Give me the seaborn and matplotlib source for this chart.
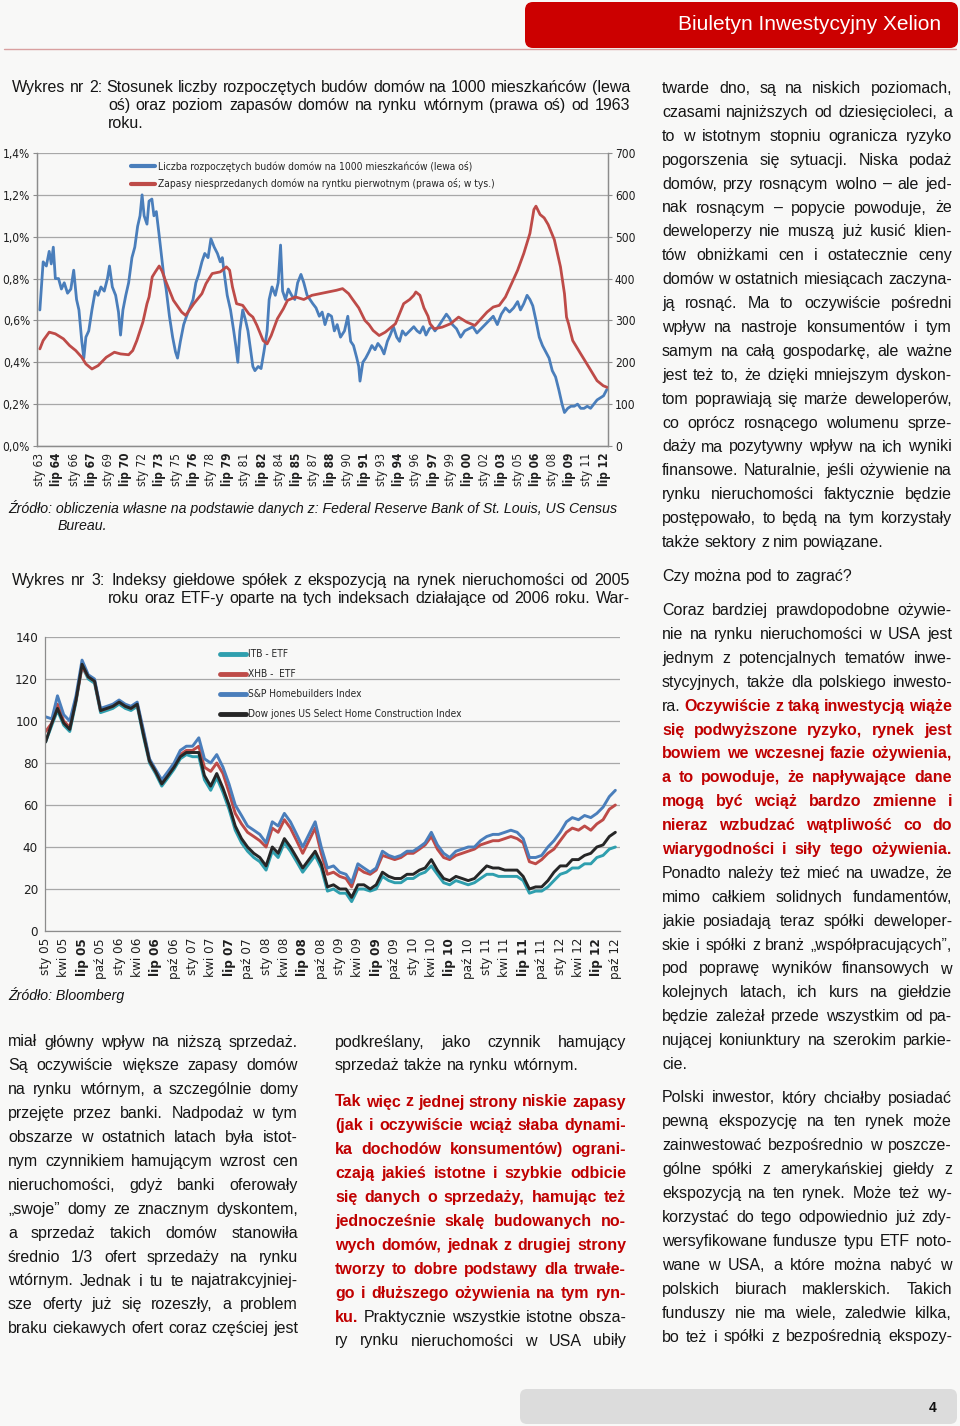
import glob
import os
import numpy as np
import pandas as pd
import seaborn as sb
import matplotlib
matplotlib.use("Agg")
from matplotlib import pyplot as plt
from matplotlib import font_manager
from matplotlib.font_manager import FontProperties
from matplotlib.patches import FancyBboxPatch
from matplotlib.lines import Line2D
import matplotlib.dates as mdates

# ---- chart 2 of the bulletin: housing starts per 1000 inhabitants vs. unsold new homes
starts_year = [
    1963.00, 1963.29, 1963.57, 1963.82, 1964.00, 1964.18, 1964.36, 1964.64, 1964.89, 1965.14,
    1965.43, 1965.72, 1965.97, 1966.22, 1966.43, 1966.68, 1966.86, 1967.04, 1967.29, 1967.57,
    1967.86, 1968.11, 1968.36, 1968.65, 1968.93, 1969.11, 1969.36, 1969.65, 1969.90, 1970.08,
    1970.29, 1970.54, 1970.79, 1971.08, 1971.33, 1971.58, 1971.79, 1971.97, 1972.15, 1972.40,
    1972.58, 1972.83, 1973.01, 1973.22, 1973.44, 1973.65, 1973.86, 1974.08, 1974.37, 1974.65,
    1974.90, 1975.08, 1975.33, 1975.62, 1975.87, 1976.15, 1976.44, 1976.69, 1976.94, 1977.22,
    1977.47, 1977.76, 1978.01, 1978.30, 1978.58, 1978.83, 1979.01, 1979.19, 1979.44, 1979.73,
    1980.01, 1980.19, 1980.37, 1980.55, 1980.80, 1981.05, 1981.26, 1981.51, 1981.69, 1981.87,
    1982.16, 1982.41, 1982.66, 1982.94, 1983.12, 1983.37, 1983.66, 1983.91, 1984.12, 1984.30,
    1984.55, 1984.80, 1985.09, 1985.37, 1985.62, 1985.91, 1986.16, 1986.45, 1986.70, 1986.95,
    1987.23, 1987.52, 1987.77, 1988.02, 1988.30, 1988.59, 1988.84, 1989.09, 1989.38, 1989.73,
    1990.02, 1990.27, 1990.52, 1990.81, 1990.98, 1991.09, 1991.34, 1991.59, 1991.88, 1992.13,
    1992.41, 1992.66, 1992.95, 1993.20, 1993.49, 1993.74, 1994.02, 1994.31, 1994.56, 1994.81,
    1995.09, 1995.45, 1995.81, 1996.10, 1996.35, 1996.63, 1996.88, 1997.17, 1997.42, 1997.67,
    1997.95, 1998.31, 1998.67, 1998.95, 1999.20, 1999.56, 1999.92, 2000.28, 2000.63, 2000.99,
    2001.35, 2001.71, 2002.06, 2002.42, 2002.78, 2003.14, 2003.49, 2003.85, 2004.21, 2004.57,
    2004.92, 2005.17, 2005.46, 2005.75, 2006.00, 2006.25, 2006.53, 2006.82, 2007.10, 2007.39,
    2007.68, 2007.96, 2008.25, 2008.53, 2008.82, 2009.03, 2009.32, 2009.60, 2009.89, 2010.18,
    2010.46, 2010.75, 2011.03, 2011.32, 2011.60, 2011.89, 2012.18, 2012.46, 2012.75,
]
starts_pct = [
    0.65, 0.88, 0.86, 0.93, 0.87, 0.95, 0.80, 0.80, 0.75, 0.78,
    0.73, 0.75, 0.84, 0.70, 0.65, 0.50, 0.42, 0.52, 0.55, 0.65,
    0.74, 0.72, 0.76, 0.74, 0.80, 0.86, 0.76, 0.72, 0.64, 0.53,
    0.65, 0.72, 0.78, 0.90, 0.95, 1.05, 1.10, 1.20, 1.10, 1.06,
    1.17, 1.18, 1.10, 1.12, 1.02, 0.92, 0.82, 0.75, 0.62, 0.52,
    0.45, 0.42, 0.50, 0.58, 0.62, 0.66, 0.70, 0.78, 0.82, 0.88,
    0.92, 0.90, 0.99, 0.95, 0.92, 0.88, 0.90, 0.82, 0.72, 0.65,
    0.55, 0.48, 0.40, 0.55, 0.65, 0.60, 0.55, 0.45, 0.38, 0.36,
    0.38, 0.37, 0.45, 0.55, 0.70, 0.76, 0.72, 0.78, 0.96, 0.74,
    0.70, 0.75, 0.72, 0.70, 0.78, 0.82, 0.78, 0.72, 0.70, 0.68,
    0.66, 0.62, 0.64, 0.58, 0.63, 0.62, 0.55, 0.58, 0.52, 0.55,
    0.62, 0.50, 0.48, 0.42, 0.38, 0.31, 0.40, 0.42, 0.45, 0.48,
    0.46, 0.49, 0.47, 0.44, 0.50, 0.53, 0.57, 0.52, 0.50, 0.55,
    0.53, 0.55, 0.57, 0.55, 0.54, 0.57, 0.53, 0.56, 0.57, 0.55,
    0.57, 0.60, 0.63, 0.61, 0.58, 0.56, 0.52, 0.55, 0.56, 0.57,
    0.54, 0.56, 0.58, 0.60, 0.62, 0.58, 0.63, 0.66, 0.64, 0.66,
    0.69, 0.65, 0.68, 0.72, 0.70, 0.67, 0.60, 0.52, 0.48, 0.45,
    0.42, 0.36, 0.33, 0.27, 0.20, 0.16, 0.18, 0.19, 0.19, 0.20,
    0.18, 0.18, 0.19, 0.18, 0.20, 0.22, 0.23, 0.24, 0.27,
]
stock_year = [
    1963.00, 1963.29, 1963.82, 1964.36, 1965.07, 1965.61, 1966.15, 1966.68, 1967.04, 1967.57,
    1968.11, 1968.83, 1969.54, 1970.08, 1970.79, 1971.15, 1971.51, 1972.04, 1972.40, 1972.58,
    1972.86, 1973.11, 1973.47, 1973.72, 1974.01, 1974.72, 1975.44, 1975.79, 1976.51, 1977.22,
    1977.58, 1978.12, 1978.83, 1979.37, 1979.65, 1979.90, 1980.26, 1980.80, 1981.33, 1981.69,
    1982.05, 1982.59, 1982.94, 1983.30, 1983.84, 1984.37, 1984.73, 1985.44, 1986.16, 1986.87,
    1987.59, 1988.30, 1989.02, 1989.56, 1990.09, 1990.45, 1990.98, 1991.52, 1991.88, 1992.24,
    1992.77, 1993.31, 1993.84, 1994.20, 1994.56, 1994.92, 1995.45, 1995.81, 1995.99, 1996.35,
    1996.70, 1997.06, 1997.24, 1997.60, 1998.31, 1999.03, 1999.74, 2000.46, 2001.17, 2001.71,
    2002.24, 2002.78, 2003.31, 2003.85, 2004.39, 2004.92, 2005.46, 2006.00, 2006.35, 2006.53,
    2006.89, 2007.25, 2007.60, 2008.14, 2008.68, 2009.03, 2009.21, 2009.39, 2009.75, 2010.46,
    2011.18, 2011.89, 2012.43, 2012.79,
]
stock_k = [
    232, 252, 272, 268, 256, 240, 228, 212, 196, 184,
    192, 212, 224, 220, 218, 228, 252, 296, 340, 356,
    404, 415, 430, 418, 396, 348, 320, 312, 340, 364,
    388, 412, 416, 428, 420, 380, 340, 336, 316, 308,
    288, 252, 244, 264, 304, 328, 348, 356, 350, 360,
    364, 368, 372, 376, 364, 350, 330, 300, 290, 276,
    264, 272, 284, 292, 316, 340, 350, 360, 368, 360,
    330, 310, 292, 280, 284, 292, 308, 296, 288, 304,
    320, 332, 336, 356, 388, 420, 460, 508, 565, 573,
    553, 545, 529, 493, 428, 364, 308, 292, 252, 220,
    188, 156, 144, 140,
]
ticks1 = ["sty 63", "lip 64", "sty 66", "lip 67", "sty 69", "lip 70", "sty 72", "lip 73",
          "sty 75", "lip 76", "sty 78", "lip 79", "sty 81", "lip 82", "sty 84", "lip 85",
          "sty 87", "lip 88", "sty 90", "lip 91", "sty 93", "lip 94", "sty 96", "lip 97",
          "sty 99", "lip 00", "sty 02", "lip 03", "sty 05", "lip 06", "sty 08", "lip 09",
          "sty 11", "lip 12"]
label_starts = "Liczba rozpoczętych budów domów na 1000 mieszkańców (lewa oś)"
label_stock = "Zapasy niesprzedanych domów na ryntku pierwotnym (prawa oś; w tys.)"

# ---- chart 3: homebuilder indices and ETFs, monthly from Jan 2005
first_month = "2005-01-01"
itb = [90, 98, 105, 98, 95, 109, 126, 120, 118, 104,
       105, 106, 108, 106, 105, 107, 93, 80, 75, 69,
       73, 77, 82, 84, 83, 83, 72, 67, 73, 66,
       58, 48, 42, 38, 35, 33, 29, 38, 35, 42,
       38, 33, 28, 32, 36, 30, 19, 20, 18, 18,
       14, 20, 20, 19, 20, 26, 24, 23, 23, 25,
       25, 27, 28, 31, 27, 23, 22, 24, 23, 22,
       23, 25, 27, 27, 26, 26, 26, 26, 24, 18,
       19, 19, 21, 24, 27, 28, 30, 30, 32, 32,
       35, 36, 39, 40]
xhb = [95, 99, 108, 100, 97, 110, 126, 121, 119, 105,
       106, 107, 109, 107, 106, 108, 95, 81, 76, 71,
       75, 79, 84, 86, 86, 88, 78, 76, 80, 75,
       66, 56, 51, 47, 45, 43, 40, 49, 47, 53,
       49, 43, 37, 43, 49, 37, 27, 28, 26, 25,
       21, 30, 28, 27, 29, 36, 35, 34, 35, 37,
       37, 39, 41, 45, 39, 35, 34, 36, 37, 38,
       39, 41, 42, 43, 43, 44, 45, 44, 42, 33,
       32, 34, 37, 39, 43, 47, 49, 48, 50, 48,
       51, 53, 58, 60]
sp_home = [102, 101, 112, 103, 100, 112, 129, 122, 120, 106,
           107, 108, 110, 108, 107, 109, 96, 82, 77, 72,
           76, 80, 86, 88, 88, 92, 82, 80, 84, 78,
           70, 60, 55, 50, 48, 46, 42, 52, 50, 56,
           52, 46, 40, 46, 52, 40, 30, 31, 28, 27,
           23, 32, 30, 28, 30, 38, 36, 35, 36, 38,
           38, 40, 42, 47, 41, 37, 35, 38, 39, 40,
           40, 43, 45, 46, 46, 47, 48, 47, 44, 35,
           35, 36, 40, 43, 47, 52, 54, 53, 55, 54,
           56, 59, 64, 67]
dj_home = [90, 99, 106, 99, 96, 110, 127, 121, 119, 105,
           106, 107, 109, 107, 106, 108, 94, 81, 76, 70,
           74, 78, 83, 85, 85, 85, 74, 69, 75, 68,
           60, 50, 44, 40, 37, 35, 31, 40, 37, 44,
           40, 35, 30, 34, 38, 32, 21, 22, 20, 20,
           16, 22, 22, 20, 22, 28, 26, 25, 25, 27,
           27, 29, 30, 34, 29, 25, 24, 26, 25, 24,
           25, 28, 31, 30, 30, 29, 29, 29, 26, 20,
           21, 21, 24, 28, 31, 31, 34, 34, 36, 37,
           40, 41, 45, 47]
index_names = ["ITB - ETF", "XHB -  ETF", "S&P Homebuilders Index",
               "Dow jones US Select Home Construction Index"]
ticks2 = ["sty 05", "kwi 05", "lip 05", "paź 05", "sty 06", "kwi 06", "lip 06", "paź 06",
          "sty 07", "kwi 07", "lip 07", "paź 07", "sty 08", "kwi 08", "lip 08", "paź 08",
          "sty 09", "kwi 09", "lip 09", "paź 09", "sty 10", "kwi 10", "lip 10", "paź 10",
          "sty 11", "kwi 11", "lip 11", "paź 11", "sty 12", "kwi 12", "lip 12", "paź 12"]

MONTHS = {"sty": 1, "lut": 2, "mar": 3, "kwi": 4, "maj": 5, "cze": 6,
          "lip": 7, "sie": 8, "wrz": 9, "paź": 10, "lis": 11, "gru": 12}

# ---- page texts
caption2 = ["Wykres nr 2: Stosunek liczby rozpoczętych budów domów na 1000 mieszkańców (lewa",
            "oś) oraz poziom zapasów domów na rynku wtórnym (prawa oś) od 1963",
            "roku."]
caption3 = ["Wykres nr 3: Indeksy giełdowe spółek z ekspozycją na rynek nieruchomości od 2005",
            "roku oraz ETF-y oparte na tych indeksach działające od 2006 roku. War-"]
col1 = ["miał główny wpływ na niższą sprzedaż.",
        "Są oczywiście większe zapasy domów",
        "na rynku wtórnym, a szczególnie domy",
        "przejęte przez banki. Nadpodaż w tym",
        "obszarze w ostatnich latach była istot-",
        "nym czynnikiem hamującym wzrost cen",
        "nieruchomości, gdyż banki oferowały",
        "„swoje” domy ze znacznym dyskontem,",
        "a sprzedaż takich domów stanowiła",
        "średnio 1/3 ofert sprzedaży na rynku",
        "wtórnym. Jednak i tu te najatrakcyjniej-",
        "sze oferty już się rozeszły, a problem",
        "braku ciekawych ofert coraz częściej jest"]
col2a = ["podkreślany, jako czynnik hamujący",
         "sprzedaż także na rynku wtórnym."]
col2b = ["*Tak więc z jednej strony niskie zapasy*",
         "*(jak i oczywiście wciąż słaba dynami-*",
         "*ka dochodów konsumentów) ograni-*",
         "*czają jakieś istotne i szybkie odbicie*",
         "*się danych o sprzedaży, hamując też*",
         "*jednocześnie skalę budowanych no-*",
         "*wych domów, jednak z drugiej strony*",
         "*tworzy to dobre podstawy dla trwałe-*",
         "*go i dłuższego ożywienia na tym ryn-*",
         "*ku.* Praktycznie wszystkie istotne obsza-",
         "ry rynku nieruchomości w USA ubiły"]
col3a = ["twarde dno, są na niskich poziomach,",
         "czasami najniższych od dziesięcioleci, a",
         "to w istotnym stopniu ogranicza ryzyko",
         "pogorszenia się sytuacji. Niska podaż",
         "domów, przy rosnącym wolno – ale jed-",
         "nak rosnącym – popycie powoduje, że",
         "deweloperzy nie muszą już kusić klien-",
         "tów obniżkami cen i ostatecznie ceny",
         "domów w ostatnich miesiącach zaczyna-",
         "ją rosnąć. Ma to oczywiście pośredni",
         "wpływ na nastroje konsumentów i tym",
         "samym na całą gospodarkę, ale ważne",
         "jest też to, że dzięki mniejszym dyskon-",
         "tom poprawiają się marże deweloperów,",
         "co oprócz rosnącego wolumenu sprze-",
         "daży ma pozytywny wpływ na ich wyniki",
         "finansowe. Naturalnie, jeśli ożywienie na",
         "rynku nieruchomości faktycznie będzie",
         "postępowało, to będą na tym korzystały",
         "także sektory z nim powiązane."]
col3b = ["Coraz bardziej prawdopodobne ożywie-",
         "nie na rynku nieruchomości w USA jest",
         "jednym z potencjalnych tematów inwe-",
         "stycyjnych, także dla polskiego inwesto-",
         "ra. *Oczywiście z taką inwestycją wiąże*",
         "*się podwyższone ryzyko, rynek jest*",
         "*bowiem we wczesnej fazie ożywienia,*",
         "*a to powoduje, że napływające dane*",
         "*mogą być wciąż bardzo zmienne i*",
         "*nieraz wzbudzać wątpliwość co do*",
         "*wiarygodności i siły tego ożywienia.*",
         "Ponadto należy też mieć na uwadze, że",
         "mimo całkiem solidnych fundamentów,",
         "jakie posiadają teraz spółki deweloper-",
         "skie i spółki z branż „współpracujących”,",
         "pod poprawę wyników finansowych w",
         "kolejnych latach, ich kurs na giełdzie",
         "będzie zależał przede wszystkim od pa-",
         "nującej koniunktury na szerokim parkie-",
         "cie."]
col3c = ["Polski inwestor, który chciałby posiadać",
         "pewną ekspozycję na ten rynek może",
         "zainwestować bezpośrednio w poszcze-",
         "gólne spółki z amerykańskiej giełdy z",
         "ekspozycją na ten rynek. Może też wy-",
         "korzystać do tego odpowiednio już zdy-",
         "wersyfikowane fundusze typu ETF noto-",
         "wane w USA, a które można nabyć w",
         "polskich biurach maklerskich. Takich",
         "funduszy nie ma wiele, zaledwie kilka,",
         "bo też i spółki z bezpośrednią ekspozy-"]

BLUE, RED, TEAL, DARK = "#4a7ebb", "#be4b48", "#2f9fae", "#262626"
GRID, AXIS, PAGE, EMPH_RED = "#a8a8a8", "#8c8c8c", "#f8f8f7", "#c00000"
W, H = 960, 1426

sb.set_style("white")
BODY = "Liberation Sans"
plt.rcParams["font.family"] = [BODY, "DejaVu Sans"]


def find_font(patterns):
    known = [f.fname for f in font_manager.fontManager.ttflist]
    for pat in patterns:
        for path in known:
            if os.path.basename(path) == pat:
                return path
        for root in ["/usr/share/fonts", "/usr/local/share/fonts"]:
            hits = glob.glob(os.path.join(root, "**", pat), recursive=True)
            if hits:
                return hits[0]
    return None


narrow_reg = find_font(["LiberationSansNarrow-Regular.ttf", "DejaVuSansCondensed.ttf"])
narrow_bold = find_font(["LiberationSansNarrow-Bold.ttf", "DejaVuSansCondensed-Bold.ttf"])


def chart_font(size, bold=False):
    path = narrow_bold if bold else narrow_reg
    if path:
        return FontProperties(fname=path, size=size)
    # no condensed face around: shrink the regular one instead
    return FontProperties(family=BODY, size=size * 0.84, weight="bold" if bold else "normal")


def rect(left, top, right, bottom):
    return [left / W, 1 - bottom / H, (right - left) / W, (bottom - top) / H]


fig = plt.figure(figsize=(W / 100, H / 100), dpi=100, facecolor=PAGE)
renderer = fig.canvas.get_renderer()

NORMAL = dict(family=BODY, size=11.5, color="#151515")
EMPH = dict(family=BODY, size=11.5, color=EMPH_RED, weight="bold")
CAPTION = dict(family=BODY, size=11.5, color="#151515")


def measure(word, style):
    t = fig.text(0, 0, word, **style)
    w = t.get_window_extent(renderer).width
    t.remove()
    return w


def text_line(x0, y, width, line, justify=True, base=NORMAL, emph=EMPH):
    items = []
    for i, part in enumerate(line.split("*")):
        for w in part.split():
            items.append((w, emph if i % 2 else base))
    widths = [measure(w, s) for w, s in items]
    gap = 0.278 * base["size"] * 100 / 72
    if justify and len(items) > 1:
        gap = max((width - sum(widths)) / (len(items) - 1), 1.5)
    x = x0
    for (w, s), ww in zip(items, widths):
        fig.text(x / W, 1 - y / H, w, va="baseline", ha="left", **s)
        x += ww + gap


def paragraph(x0, y0, width, lines, last_justified=False, step=23.9, **kw):
    for i, line in enumerate(lines):
        just = last_justified or i < len(lines) - 1
        text_line(x0, y0 + i * step, width, line, just, **kw)


def style_axes(ax):
    ax.spines["top"].set_visible(False)
    for side in ["left", "bottom", "right"]:
        ax.spines[side].set_color(AXIS)
        ax.spines[side].set_linewidth(0.9)
    ax.set_facecolor("none")
    ax.yaxis.grid(True, color=GRID, lw=0.9)
    ax.xaxis.grid(False)
    ax.set_axisbelow(True)
    ax.tick_params(axis="both", length=3, width=0.8, color=AXIS,
                   labelcolor="#1e1e1e", pad=2)
    ax.set_xlabel("")
    ax.set_ylabel("")


def tick_fonts(ax, size):
    for lab in ax.get_xticklabels():
        lab.set_fontproperties(chart_font(size, lab.get_text().startswith("lip")))
    for lab in ax.get_yticklabels():
        lab.set_fontproperties(chart_font(size))


# ---- header / footer
fig.patches.append(FancyBboxPatch((525 / W, 1 - 48 / H), 433 / W, 46 / H,
                                  boxstyle="round,pad=0,rounding_size=%f" % (8 / W),
                                  mutation_aspect=W / H, transform=fig.transFigure,
                                  facecolor="#cc0000", edgecolor="none"))
fig.text(941 / W, 1 - 25 / H, "Biuletyn Inwestycyjny Xelion", color="white",
         fontsize=15, ha="right", va="center", family=BODY)
fig.add_artist(Line2D([4 / W, 956 / W], [1 - 48.5 / H] * 2, transform=fig.transFigure,
                      color="#d9a0a0", lw=1.0))
fig.patches.append(FancyBboxPatch((520 / W, 1 - 1424 / H), 437 / W, 35 / H,
                                  boxstyle="round,pad=0,rounding_size=%f" % (7 / W),
                                  mutation_aspect=W / H, transform=fig.transFigure,
                                  facecolor="#dcdcdc", edgecolor="none"))
fig.text(933 / W, 1 - 1408 / H, "4", fontsize=10, weight="bold", ha="center",
         va="center", family=BODY, color="#111111")

# ---- captions, sources, body text
text_line(12, 92, 618, caption2[0], base=CAPTION)
text_line(108, 110, 522, caption2[1], base=CAPTION)
text_line(108, 128, 522, caption2[2], justify=False, base=CAPTION)
src = dict(family=BODY, size=10.2, style="italic", color="#151515")
fig.text(8 / W, 1 - 513 / H,
         "Źródło: obliczenia własne na podstawie danych z: Federal Reserve Bank of St. Louis, US Census",
         va="baseline", **src)
fig.text(58 / W, 1 - 530 / H, "Bureau.", va="baseline", **src)
text_line(12, 585, 618, caption3[0], base=CAPTION)
text_line(108, 603, 522, caption3[1], base=CAPTION)
fig.text(8 / W, 1 - 1000 / H, "Źródło: Bloomberg", va="baseline", **src)

paragraph(8, 1046.5, 290, col1, last_justified=True)
paragraph(335, 1046.5, 291, col2a)
paragraph(335, 1106.5, 291, col2b, last_justified=True)
paragraph(662, 93, 290, col3a)
text_line(662, 581, 290, "Czy można pod to zagrać?", justify=False)
paragraph(662, 615, 290, col3b)
paragraph(662, 1102.5, 290, col3c, last_justified=True)

# ---- chart 2 (starts vs stock)
ax1 = fig.add_axes(rect(37, 153, 608, 446))
ax1r = ax1.twinx()
sb.lineplot(x=starts_year, y=starts_pct, ax=ax1, color=BLUE, lw=2.0, legend=False)
sb.lineplot(x=stock_year, y=stock_k, ax=ax1r, color=RED, lw=2.0, legend=False)
style_axes(ax1)
style_axes(ax1r)
ax1r.yaxis.grid(False)
ax1.set_ylim(0, 1.4)
ax1r.set_ylim(0, 700)
ax1.set_xlim(1962.75, 2012.85)
ax1.set_yticks(np.arange(0, 1.41, 0.2))
ax1.set_yticklabels([("%.1f%%" % v).replace(".", ",") for v in np.arange(0, 1.41, 0.2)])
ax1r.set_yticks(range(0, 701, 100))
ax1r.set_yticklabels([str(v) for v in range(0, 701, 100)])
tick_pos1 = [(1900 + int(t[-2:]) if int(t[-2:]) > 50 else 2000 + int(t[-2:]))
             + (MONTHS[t[:3]] - 1) / 12 for t in ticks1]
ax1.set_xticks(tick_pos1)
ax1.set_xticklabels(ticks1, rotation=90)
tick_fonts(ax1, 8.6)
tick_fonts(ax1r, 8.6)
h1 = [Line2D([], [], color=BLUE, lw=3), Line2D([], [], color=RED, lw=3)]
ax1r.legend(h1, [label_starts, label_stock], loc="upper left",
            bbox_to_anchor=(0.155, 0.99), frameon=False, borderpad=0,
            handlelength=2.4, handletextpad=0.3, labelspacing=0.62,
            prop=chart_font(7.4))

# ---- chart 3 (indices)
ax2 = fig.add_axes(rect(45, 637, 620, 931))
months = pd.date_range(first_month, periods=len(dj_home), freq="MS")
colors2 = [TEAL, RED, BLUE, DARK]
for vals, col in zip([itb, xhb, sp_home, dj_home], colors2):
    sb.lineplot(x=months, y=vals, ax=ax2, color=col, lw=2.1, legend=False)
style_axes(ax2)
ax2.spines["right"].set_visible(False)
ax2.set_ylim(0, 140)
ax2.set_yticks(range(0, 141, 20))
ax2.set_xlim(pd.Timestamp("2004-12-29"), pd.Timestamp("2012-10-24"))
tick_pos2 = [mdates.date2num(pd.Timestamp(2000 + int(t[-2:]), MONTHS[t[:3]], 1)) for t in ticks2]
ax2.set_xticks(tick_pos2)
ax2.set_xticklabels(ticks2, rotation=90)
tick_fonts(ax2, 9.6)
h2 = [Line2D([], [], color=c, lw=3.5) for c in colors2]
ax2.legend(h2, index_names, loc="upper left", bbox_to_anchor=(0.296, 0.975),
           frameon=False, borderpad=0, handlelength=2.5, handletextpad=0.25,
           labelspacing=0.98, prop=chart_font(7.3))

fig.savefig("out.png", dpi=100, facecolor=PAGE)
